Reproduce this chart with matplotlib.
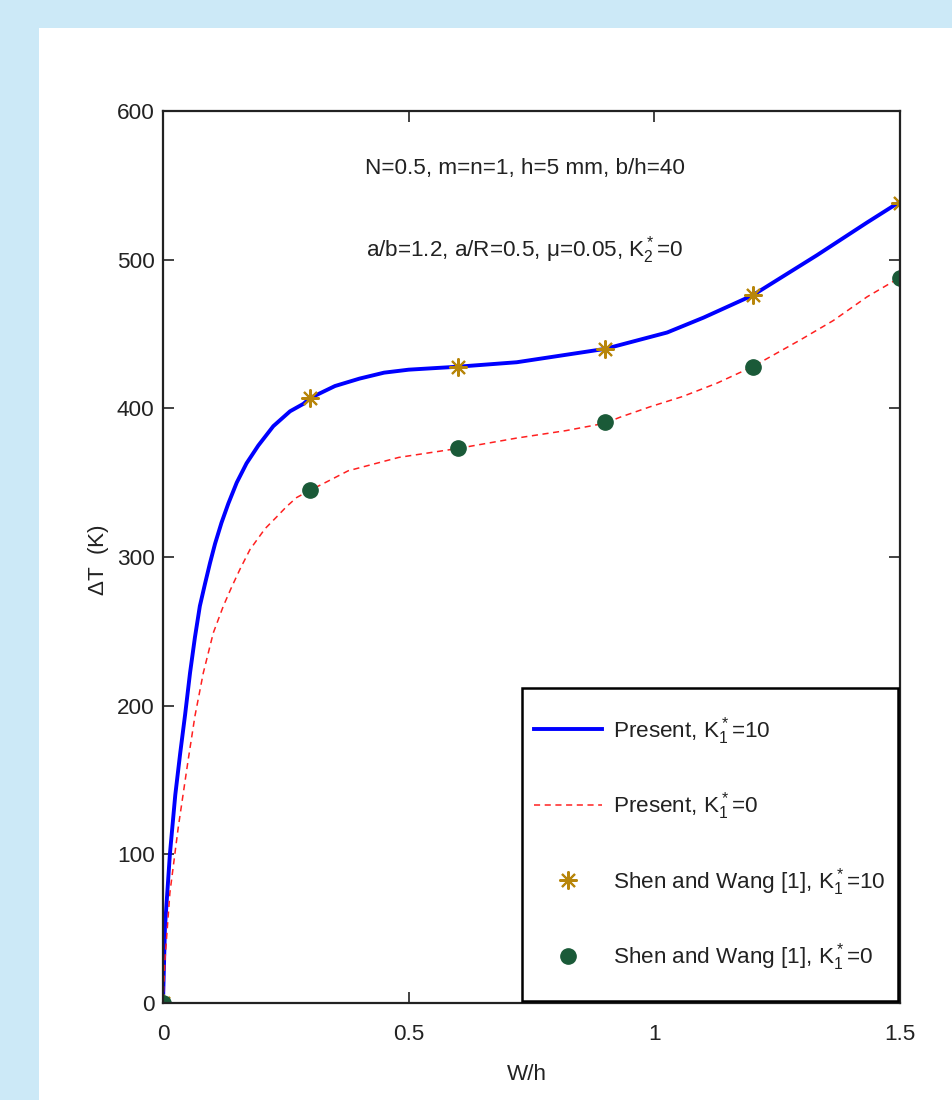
import matplotlib
matplotlib.use('Agg')
from matplotlib import rcParams
rcParams['font.family'] = ['Liberation Sans Narrow', 'Liberation Sans', 'DejaVu Sans']
rcParams['mathtext.fontset'] = 'custom'
rcParams['mathtext.rm'] = 'Liberation Sans'
import matplotlib.pyplot as plt
from matplotlib.patches import Rectangle
from matplotlib.lines import Line2D
from matplotlib.legend_handler import HandlerLine2D

# present solution, K1* = 10
w_k10 = [0, 0.004, 0.014, 0.025, 0.035, 0.045, 0.055, 0.065, 0.075, 0.0855, 0.0957, 0.106,
         0.119, 0.133, 0.150, 0.170, 0.194, 0.2245, 0.2585, 0.2856, 0.3, 0.35, 0.4, 0.45, 0.5,
         0.6, 0.72, 0.82, 0.9, 1.026, 1.1, 1.2, 1.331, 1.433, 1.5]
dt_k10 = [0, 51, 100, 140, 168, 194, 222, 246, 267, 282, 296, 309,
          323, 336, 350, 363, 375, 388, 398, 403, 407, 415, 420, 424, 426,
          428, 431, 436, 440, 451, 461, 476, 503, 525, 539]

# present solution, K1* = 0
w_k0 = [0, 0.004, 0.014, 0.031, 0.051, 0.065, 0.082, 0.1024, 0.1228, 0.14, 0.157, 0.177,
        0.2076, 0.2314, 0.2517, 0.272, 0.3, 0.33, 0.377, 0.48, 0.6, 0.72, 0.82, 0.9, 0.93,
        0.991, 1.058, 1.128, 1.2, 1.297, 1.364, 1.433, 1.5]
dt_k0 = [0, 29, 74, 118, 163, 193, 222, 249, 267, 280, 292, 305,
         319, 327, 334, 340, 345, 350, 358, 367, 373, 380, 385, 390, 394,
         401, 408, 417, 428, 446, 459, 475, 488]

# Shen and Wang [1]
w_ref = [0, 0.3, 0.6, 0.9, 1.2, 1.5]
dt_ref_k10 = [0, 407, 428, 440, 476, 538]
dt_ref_k0 = [0, 345, 373, 391, 428, 488]

x_ticks = [0, 0.5, 1, 1.5]
x_tick_labels = ['0', '0.5', '1', '1.5']
y_ticks = [0, 100, 200, 300, 400, 500, 600]

FS = 16.2


class LoweredLine(HandlerLine2D):
    # tall legend rows put the handle above the text; push it back down
    def create_artists(self, legend, orig_handle, xdescent, ydescent, width, height,
                       fontsize, trans):
        return super().create_artists(legend, orig_handle, xdescent, ydescent + 0.9 * fontsize,
                                      width, height, fontsize, trans)


W, H = 953, 1100
fig = plt.figure(figsize=(W / 100, H / 100), dpi=100, facecolor='#cce9f7')
fig.patches.append(Rectangle((39 / W, 0), (W - 39) / W, (H - 28) / H,
                             transform=fig.transFigure, facecolor='white',
                             edgecolor='none', zorder=-10))

ax = fig.add_axes([163 / W, (H - 1003) / H, (900 - 163) / W, (1003 - 111) / H])
ax.set_facecolor('white')

ax.plot(w_k10, dt_k10, color='#0000ff', lw=2.8, label=r'Present, $\mathregular{K_1^*}$=10')
ax.plot(w_k0, dt_k0, color='#ff2020', lw=1.1, dashes=(4, 3),
        label=r'Present, $\mathregular{K_1^*}$=0')
ax.plot(w_ref, dt_ref_k10, ls='none', marker=(8, 2, 0), ms=13, mew=1.5, color='#b8860b',
        label=r'Shen and Wang [1], $\mathregular{K_1^*}$=10')
ax.plot(w_ref, dt_ref_k0, ls='none', marker='o', ms=11, color='#1a5a38',
        label=r'Shen and Wang [1], $\mathregular{K_1^*}$=0')

ax.set_xlim(0, 1.5)
ax.set_ylim(0, 600)
ax.set_xticks(x_ticks)
ax.set_xticklabels(x_tick_labels)
ax.set_yticks(y_ticks)
ax.tick_params(direction='in', top=True, right=True, length=8, width=1.2,
               labelsize=FS, colors='#222222')
ax.tick_params(axis='x', pad=15)
ax.tick_params(axis='y', pad=6)
for s in ax.spines.values():
    s.set_linewidth(1.6)
    s.set_color('#222222')

ax.set_xlabel('W/h', fontsize=FS, color='#222222')
ax.xaxis.set_label_coords(0.494, -0.068)
ax.set_ylabel(r'$\Delta$T  (K)', fontsize=FS, color='#222222')
ax.yaxis.set_label_coords(-0.071, 0.497)

ax.text(0.491, 0.936, 'N=0.5, m=n=1, h=5 mm, b/h=40', transform=ax.transAxes,
        ha='center', va='center', fontsize=FS, color='#222222')
ax.text(0.491, 0.844, r'a/b=1.2, a/R=0.5, μ=0.05, $\mathregular{K_2^*}$=0', transform=ax.transAxes,
        ha='center', va='center', fontsize=FS, color='#222222')

leg = ax.legend(loc='lower right', fontsize=FS, frameon=True, fancybox=False,
                edgecolor='black', framealpha=1, handlelength=3.0, handleheight=3.8,
                handletextpad=0.5, labelspacing=0.64, borderpad=0.55, borderaxespad=0.1,
                handler_map={Line2D: LoweredLine()})
leg.get_frame().set_linewidth(1.8)
for t in leg.get_texts():
    t.set_color('#222222')

fig.savefig('out.png', dpi=100, facecolor=fig.get_facecolor())
